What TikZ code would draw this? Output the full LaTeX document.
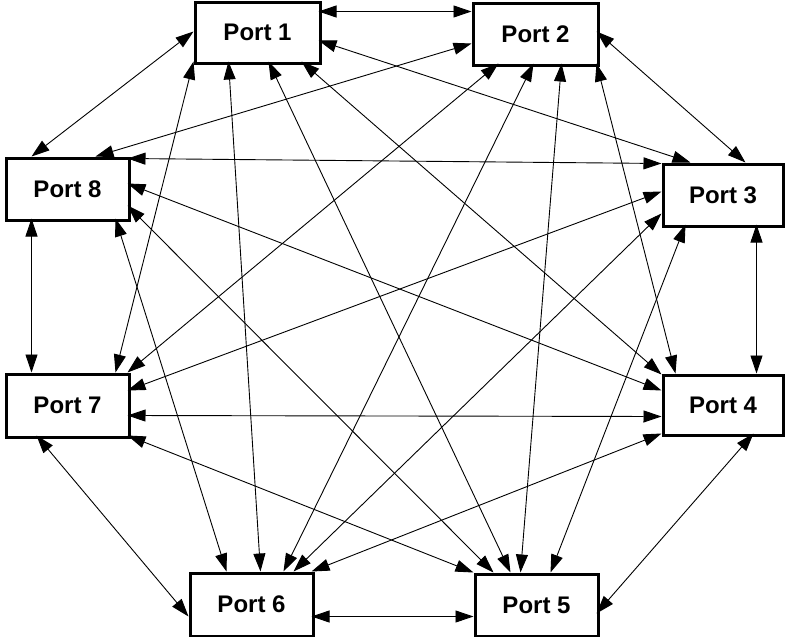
\documentclass[tikz,border=0pt]{standalone}
\usepackage{fontspec}
\setmainfont{Liberation Sans}
\usetikzlibrary{arrows.meta,calc}
\begin{document}
\begin{tikzpicture}[x=1pt,y=-1pt,
  port/.style={draw, line width=3pt, fill=white, inner sep=0pt,
    font=\fontsize{24}{27}\selectfont\bfseries, minimum height=62pt},
  conn/.style={line width=0.9pt, {Triangle[length=18pt,width=12pt]}-{Triangle[length=18pt,width=12pt]}}]
\useasboundingbox (0,0) rectangle (787,637);
\node[port, minimum width=125pt, minimum height=61pt] (p1) at (257.5,32.5) {Port 1};
\node[port, minimum width=125pt] (p2) at (535.5,34) {Port 2};
\node[port, minimum width=123pt] (p8) at (67.5,189) {Port 8};
\node[port, minimum width=120pt] (p3) at (723,195) {Port 3};
\node[port, minimum width=123pt, minimum height=63pt] (p7) at (67.5,405.5) {Port 7};
\node[port, minimum width=120pt, minimum height=60pt] (p4) at (723,405) {Port 4};
\node[port, minimum width=123pt, minimum height=63pt] (p6) at (251.5,604.5) {Port 6};
\node[port, minimum width=123pt] (p5) at (536.5,605) {Port 5};
% Port 1
\draw[conn] ($(p1.north west)+(125,11)$) -- ($(p2.north west)+(0,10)$);
\draw[conn] ($(p1.north west)+(0,31)$) -- ($(p8.north west)+(27,0)$);
\draw[conn] ($(p1.north west)+(125,40)$) -- ($(p3.north west)+(29,0)$);
\draw[conn] ($(p1.north west)+(0,61)$) -- ($(p7.north west)+(111,0)$);
\draw[conn] ($(p1.north west)+(35,61)$) -- ($(p6.north west)+(72,0)$);
\draw[conn] ($(p1.north west)+(75,61)$) -- ($(p5.north west)+(37,0)$);
\draw[conn] ($(p1.north west)+(108,61)$) -- ($(p4.north west)+(0,1)$);
% Port 2
\draw[conn] ($(p2.north west)+(0,42)$) -- ($(p8.north west)+(91,0)$);
\draw[conn] ($(p2.north west)+(125,30)$) -- ($(p3.north west)+(84,0)$);
\draw[conn] ($(p2.north west)+(27,62)$) -- ($(p7.north west)+(123,0)$);
\draw[conn] ($(p2.north west)+(62,62)$) -- ($(p6.north west)+(95,0)$);
\draw[conn] ($(p2.north west)+(90,62)$) -- ($(p5.north west)+(47,0)$);
\draw[conn] ($(p2.north west)+(125,62)$) -- ($(p4.north west)+(14,0)$);
% Port 8
\draw[conn] ($(p8.north west)+(123,2)$) -- ($(p3.north west)+(0,1)$);
\draw[conn] ($(p8.north west)+(123,27)$) -- ($(p4.north west)+(0,17)$);
\draw[conn] ($(p8.north west)+(123,49)$) -- ($(p5.north west)+(20,0)$);
\draw[conn] ($(p8.north west)+(27,62)$) -- ($(p7.north west)+(27,0)$);
\draw[conn] ($(p8.north west)+(111,62)$) -- ($(p6.north west)+(38,0)$);
% Port 3
\draw[conn] ($(p3.north west)+(0,29)$) -- ($(p7.north west)+(123,18)$);
\draw[conn] ($(p3.north west)+(0,51)$) -- ($(p6.north west)+(105,0)$);
\draw[conn] ($(p3.north west)+(24,62)$) -- ($(p5.north west)+(77,0)$);
\draw[conn] ($(p3.north west)+(95,62)$) -- ($(p4.north west)+(95,0)$);
% Port 4
\draw[conn] ($(p4.north west)+(0,43)$) -- ($(p7.north west)+(123,43)$);
\draw[conn] ($(p4.north west)+(0,60)$) -- ($(p6.north west)+(123,0)$);
\draw[conn] ($(p4.north west)+(92,60)$) -- ($(p5.north west)+(123,41)$);
% Port 7
\draw[conn] ($(p7.north west)+(123,63)$) -- ($(p5.north west)+(0,0)$);
\draw[conn] ($(p7.north west)+(32,63)$) -- ($(p6.north west)+(0,45)$);
% Port 6
\draw[conn] ($(p6.north west)+(123,45)$) -- ($(p5.north west)+(0,44)$);
\end{tikzpicture}
\end{document}
